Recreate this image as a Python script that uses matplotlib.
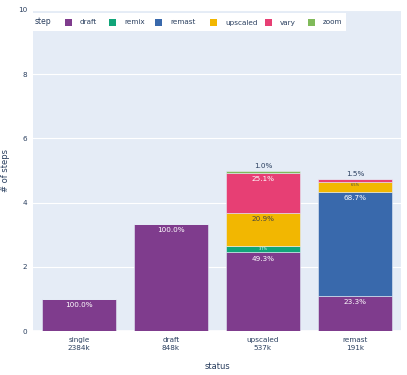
import matplotlib
matplotlib.use("Agg")
import matplotlib.pyplot as plt
from matplotlib.patches import Rectangle
import numpy as np

statuses = ["single", "draft", "upscaled", "remast"]
counts = ["2384k", "848k", "537k", "191k"]
totals = [1.0, 3.34, 4.97, 4.72]
steps = ["draft", "remix", "remast", "upscaled", "vary", "zoom"]
colors = ["#7F3C8D", "#11A579", "#3969AC", "#F2B701", "#E73F74", "#80BA5A"]
# percentage share of each step within each status
pct = {
    "draft":    [100.0, 100.0, 49.3, 23.3],
    "remix":    [0.0, 0.0, 3.7, 0.0],
    "remast":   [0.0, 0.0, 0.0, 68.7],
    "upscaled": [0.0, 0.0, 20.9, 6.5],
    "vary":     [0.0, 0.0, 25.1, 1.5],
    "zoom":     [0.0, 0.0, 1.0, 0.0],
}

W, H = 407, 375
fig = plt.figure(figsize=(W/100, H/100), dpi=100)
ax = fig.add_axes([33/W, 1-331/H, (401-33)/W, (331-10)/H])
ax.set_facecolor("#E5ECF6")
txtc = "#2a3f5f"
x = np.arange(len(statuses))
bottom = np.zeros(len(statuses))
for s, c in zip(steps, colors):
    p = np.array(pct[s])
    h = np.array(totals) * p / 100
    ax.bar(x, h, bottom=bottom, width=0.8, color=c, edgecolor="#E5ECF6", linewidth=0.4, zorder=2)
    for i in range(len(x)):
        if p[i] <= 0:
            continue
        top = bottom[i] + h[i]
        if p[i] < 2:
            ax.text(x[i], top + 0.08, f"{p[i]:.1f}%", ha="center", va="bottom", fontsize=5.2, color=txtc, zorder=3)
        elif p[i] < 8:
            ax.text(x[i], top - 0.03, f"{p[i]:.1f}%", ha="center", va="top", fontsize=2.5,
                    color="#444444" if s == "upscaled" else "white", zorder=3)
        else:
            ax.text(x[i], top - 0.1, f"{p[i]:.1f}%", ha="center", va="top", fontsize=5.2,
                    color="#444444" if s == "upscaled" else "white", zorder=3)
    bottom += h

ax.set_xlim(-0.5, 3.5)
ax.set_ylim(0, 10)
ax.set_yticks([0, 2, 4, 6, 8, 10])
ax.set_xticks(x)
ax.set_xticklabels([f"{a}\n{b}" for a, b in zip(statuses, counts)], fontsize=5.2, color=txtc, linespacing=1.5)
ax.tick_params(axis="y", labelsize=5.2, labelcolor=txtc, length=0, pad=4)
ax.tick_params(axis="x", length=0, pad=4)
ax.grid(axis="y", color="white", linewidth=0.8, zorder=0)
ax.set_axisbelow(True)
for sp in ax.spines.values():
    sp.set_visible(False)
ax.axhline(0, color="white", linewidth=1.2, zorder=1)
ax.set_xlabel("status", fontsize=6, color=txtc, labelpad=8)
ax.set_ylabel("# of steps", fontsize=6, color=txtc, labelpad=6)

# legend (horizontal, top-left inside plot)
def fx(px): return px / W
def fy(py): return 1 - py / H
fig.patches.append(Rectangle((fx(32), fy(31)), fx(346) - fx(32), fy(13) - fy(31),
                             transform=fig.transFigure, facecolor="white", edgecolor="none", zorder=5))
fig.text(fx(35), fy(22), "step", fontsize=5.5, color=txtc, va="center", ha="left", zorder=6)
sq = [65, 109, 155, 210, 265, 308]
for s, c, sx in zip(steps, colors, sq):
    fig.patches.append(Rectangle((fx(sx), fy(26)), fx(7), 7/H, transform=fig.transFigure,
                                 facecolor=c, edgecolor="none", zorder=6))
    fig.text(fx(sx + 15), fy(22.5), s, fontsize=5.2, color=txtc, va="center", ha="left", zorder=6)

fig.savefig("out.png", dpi=100, facecolor="white")
